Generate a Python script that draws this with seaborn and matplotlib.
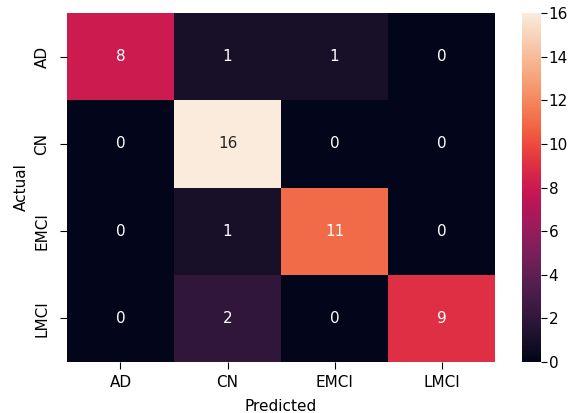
import matplotlib
matplotlib.use("Agg")
import matplotlib.pyplot as plt
import seaborn as sns
import pandas as pd

labels = ['AD', 'CN', 'EMCI', 'LMCI']
cm_values = [
    [8, 1, 1, 0],
    [0, 16, 0, 0],
    [0, 1, 11, 0],
    [0, 2, 0, 9],
]

df = pd.DataFrame(cm_values, index=labels, columns=labels)

plt.rcParams['font.size'] = 11

fig = plt.figure(figsize=(5.7, 4.13), dpi=100)
ax = fig.add_axes([0.1175, 0.1235, 0.751, 0.845])
cax = fig.add_axes([0.916, 0.1235, 0.033, 0.845])

sns.heatmap(df, annot=True, fmt='d', ax=ax, cbar_ax=cax)
ax.tick_params(axis='y', length=5, pad=7.5)
ax.tick_params(axis='x', length=5, pad=4.5)
cax.tick_params(length=4, pad=1.5)
ax.set_xlabel('Predicted', labelpad=6)
ax.set_ylabel('Actual')

fig.savefig('out.png', dpi=100)
